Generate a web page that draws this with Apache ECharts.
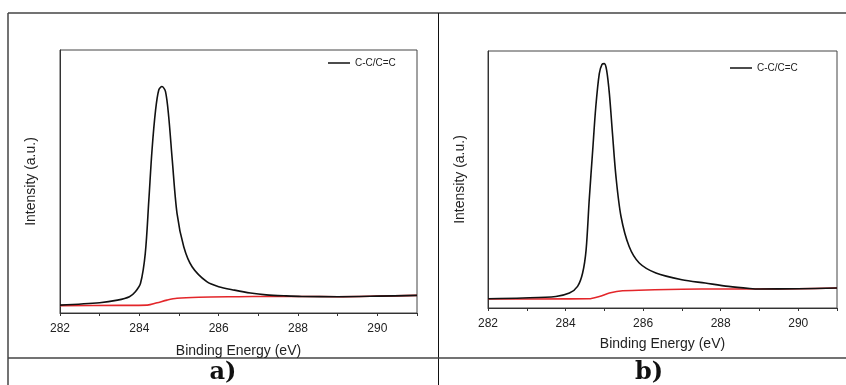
<!DOCTYPE html>
<html>
<head>
<meta charset="utf-8">
<script src="https://cdn.jsdelivr.net/npm/echarts@6/dist/echarts.min.js"></script>
<style>
  html, body { margin: 0; padding: 0; background: #fff; }
  #chart { width: 846px; height: 385px; }
</style>
</head>
<body>
<div id="chart"></div>
<script>
// panel a) - C 1s spectrum and its background
const energyA = [282, 283.0, 283.45, 283.75, 283.9, 284.03, 284.15, 284.24, 284.32, 284.41, 284.49, 284.57, 284.66, 284.74, 284.83, 284.95, 285.12, 285.33, 285.7, 286.0, 286.4, 286.8, 287.2, 287.7, 288.1, 289, 290, 291];
const peakA   = [3.0, 3.9, 4.9, 6.2, 8.1, 11.3, 22.7, 43, 62, 77.2, 84.8, 86.1, 84.2, 74.7, 58.2, 37.9, 25.2, 17.6, 11.9, 10.0, 8.7, 7.6, 6.9, 6.5, 6.3, 6.2, 6.4, 6.7];
const bgEnergyA = [282, 283.5, 284.2, 284.45, 284.7, 284.95, 285.5, 286.5, 287.2, 288.1, 289, 290, 291];
const bgA       = [2.8, 2.9, 3.0, 3.9, 4.9, 5.6, 6.0, 6.2, 6.3, 6.3, 6.2, 6.4, 6.7];

// panel b)
const energyB = [282, 282.9, 283.75, 284.1, 284.31, 284.44, 284.53, 284.61, 284.7, 284.78, 284.87, 284.94, 285.0, 285.06, 285.13, 285.21, 285.3, 285.43, 285.64, 285.9, 286.33, 287.0, 287.6, 288.2, 288.75, 289.0, 290, 291];
const peakB   = [3.6, 3.9, 4.5, 5.8, 8.4, 13.6, 22.6, 42, 61.4, 78.3, 91.2, 94.8, 95.1, 92.5, 83.4, 67.9, 51.1, 35.6, 23.9, 17.5, 13.6, 11.0, 9.7, 8.4, 7.6, 7.4, 7.5, 7.8];
const bgEnergyB = [282, 284.0, 284.6, 284.87, 285.13, 285.47, 286.3, 287, 288, 289, 290, 291];
const bgB       = [3.5, 3.55, 3.6, 4.5, 5.8, 6.7, 7.1, 7.3, 7.4, 7.4, 7.5, 7.8];

const xTicks = [282, 284, 286, 288, 290];
const legendName = 'C-C/C=C';

const pairs = (xs, ys) => xs.map((x, i) => [x, ys[i]]);

const chart = echarts.init(document.getElementById('chart'));

const textColor = '#222';
const font = 'Liberation Sans, Arial, sans-serif';

const makeX = (idx, margin, nameGap) => ({
  type: 'value', gridIndex: idx, min: 282, max: 291, interval: 1,
  name: 'Binding Energy (eV)', nameLocation: 'middle', nameGap: nameGap,
  nameTextStyle: { color: textColor, fontSize: 14, fontFamily: font },
  axisLine: { show: true, lineStyle: { color: '#333', width: 1 } },
  axisTick: { show: true, inside: false, length: 3, lineStyle: { color: '#333' } },
  axisLabel: {
    color: textColor, fontSize: 12, fontFamily: font, margin: margin,
    formatter: v => (xTicks.indexOf(v) >= 0 ? String(v) : '')
  },
  splitLine: { show: false }
});

const makeY = (idx, nameGap) => ({
  type: 'value', gridIndex: idx, min: 0, max: 100,
  name: 'Intensity (a.u.)', nameLocation: 'middle', nameGap: nameGap, nameRotate: 90,
  nameTextStyle: { color: textColor, fontSize: 14, fontFamily: font },
  axisLine: { show: true, lineStyle: { color: '#333', width: 1 } },
  axisTick: { show: false },
  axisLabel: { show: false },
  splitLine: { show: false }
});

const lineSeries = (name, idx, data, color) => ({
  name: name, type: 'line', xAxisIndex: idx, yAxisIndex: idx,
  data: data, symbol: 'none', showSymbol: false, smooth: 0.3,
  lineStyle: { color: color, width: 1.6 }, itemStyle: { color: color },
  animation: false
});

const legendCfg = (left, top) => ({
  data: [{ name: legendName, icon: 'rect' }], left: left, top: top, padding: 0,
  itemWidth: 22, itemHeight: 1.5, itemGap: 0,
  textStyle: { color: textColor, fontSize: 10, fontFamily: font },
  selectedMode: false
});

chart.setOption({
  animation: false,
  grid: [
    { left: 60, top: 50, width: 357, height: 263, show: true, borderColor: '#444', borderWidth: 1, backgroundColor: 'transparent' },
    { left: 488, top: 51, width: 349, height: 257, show: true, borderColor: '#444', borderWidth: 1, backgroundColor: 'transparent' }
  ],
  xAxis: [makeX(0, 10, 31), makeX(1, 10, 29)],
  yAxis: [makeY(0, 22), makeY(1, 21)],
  legend: [legendCfg(328, 58), legendCfg(730, 63)],
  series: [
    lineSeries('bgA', 0, pairs(bgEnergyA, bgA), '#e3262a'),
    lineSeries(legendName, 0, pairs(energyA, peakA), '#111'),
    lineSeries('bgB', 1, pairs(bgEnergyB, bgB), '#e3262a'),
    lineSeries(legendName, 1, pairs(energyB, peakB), '#111')
  ],
  graphic: [
    { type: 'line', shape: { x1: 8, y1: 13, x2: 846, y2: 13 }, style: { stroke: '#444', lineWidth: 1.5 } },
    { type: 'line', shape: { x1: 8, y1: 13, x2: 8, y2: 385 }, style: { stroke: '#444', lineWidth: 1.5 } },
    { type: 'line', shape: { x1: 438.5, y1: 13, x2: 438.5, y2: 385 }, style: { stroke: '#111', lineWidth: 1 } },
    { type: 'line', shape: { x1: 8, y1: 358, x2: 846, y2: 358 }, style: { stroke: '#444', lineWidth: 1.5 } },
    { type: 'text', x: 223, y: 385, style: { text: 'a)', font: 'bold 24px "DejaVu Serif", serif', fill: '#111', textAlign: 'center', textVerticalAlign: 'bottom' } },
    { type: 'text', x: 649, y: 385, style: { text: 'b)', font: 'bold 24px "DejaVu Serif", serif', fill: '#111', textAlign: 'center', textVerticalAlign: 'bottom' } }
  ]
});
</script>
</body>
</html>
